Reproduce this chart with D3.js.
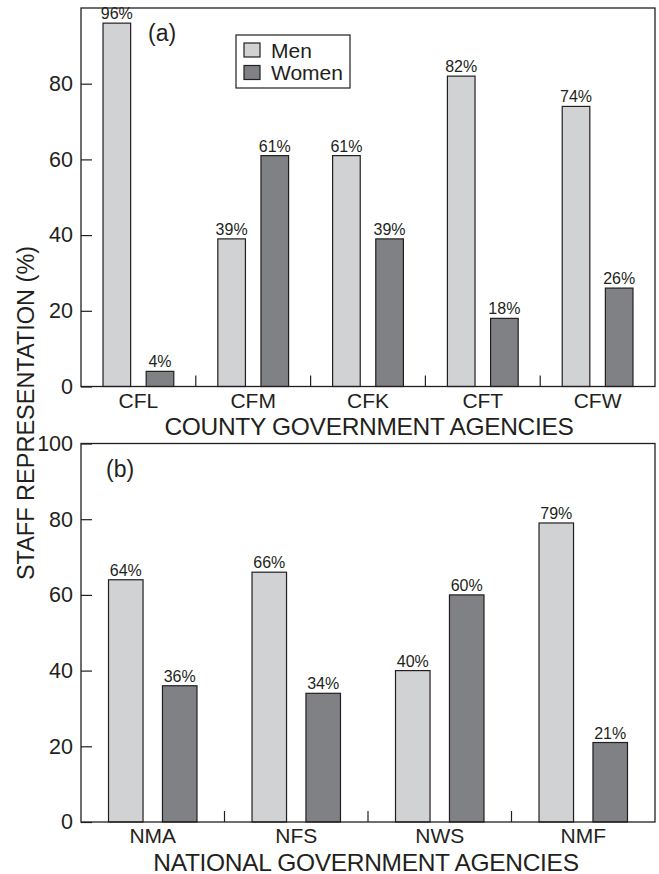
<!DOCTYPE html>
<html>
<head>
<meta charset="utf-8">
<script src="https://cdn.jsdelivr.net/npm/d3@7"></script>
<style>
  html, body { margin: 0; padding: 0; background: #fff; }
  svg { display: block; font-family: "Liberation Sans", Arial, Helvetica, sans-serif; }
</style>
</head>
<body>
<svg id="chart" width="659" height="874"></svg>
<script>
// Staff representation by gender in county and national agencies
const countyAgencies = ["CFL", "CFM", "CFK", "CFT", "CFW"];
const countyMen = [96, 39, 61, 82, 74];
const countyWomen = [4, 61, 39, 18, 26];

const nationalAgencies = ["NMA", "NFS", "NWS", "NMF"];
const nationalMen = [64, 66, 40, 79];
const nationalWomen = [36, 34, 60, 21];

const seriesNames = ["Men", "Women"];
const countyTicks = [0, 20, 40, 60, 80];
const nationalTicks = [0, 20, 40, 60, 80, 100];

const colors = { Men: "#d1d2d4", Women: "#808184" };
const ink = "#231f20";

const svg = d3.select("#chart");
const plotLeft = 81, plotRight = 655;

function panel(opts) {
  const g = svg.append("g");
  const x = d3.scaleBand().domain(opts.categories).range([plotLeft, plotRight]).padding(0);
  const sub = d3.scaleBand().domain(seriesNames).range([0, x.bandwidth()])
    .paddingInner(0.36).paddingOuter(0.51);
  const y = d3.scaleLinear().domain([0, 100]).range([opts.bottom, opts.top]);

  const rows = opts.categories.map((c, i) => ({
    cat: c,
    values: [{ key: "Men", v: opts.men[i] }, { key: "Women", v: opts.women[i] }]
  }));

  // bars
  const grp = g.selectAll(".grp").data(rows).join("g")
    .attr("transform", d => `translate(${x(d.cat)},0)`);
  grp.selectAll("rect").data(d => d.values).join("rect")
    .attr("x", d => sub(d.key))
    .attr("y", d => y(d.v))
    .attr("width", sub.bandwidth())
    .attr("height", d => y(0) - y(d.v))
    .attr("fill", d => colors[d.key])
    .attr("stroke", ink)
    .attr("stroke-width", 1.2);
  grp.selectAll("text").data(d => d.values).join("text")
    .attr("x", d => sub(d.key) + sub.bandwidth() / 2)
    .attr("y", d => y(d.v) - 4)
    .attr("text-anchor", "middle")
    .attr("font-size", 16)
    .attr("fill", ink)
    .text(d => d.v + "%");

  // frame
  g.append("rect")
    .attr("x", plotLeft).attr("y", opts.top)
    .attr("width", plotRight - plotLeft).attr("height", opts.bottom - opts.top)
    .attr("fill", "none").attr("stroke", ink).attr("stroke-width", 1.3);

  // y axis with inward ticks
  const yAxis = d3.axisLeft(y).tickValues(opts.ticks).tickSize(-11).tickPadding(8)
    .tickFormat(d3.format("d"));
  const ya = g.append("g").attr("transform", `translate(${plotLeft},0)`).call(yAxis);
  ya.select(".domain").remove();
  ya.selectAll(".tick line").attr("stroke", ink).attr("stroke-width", 1.2);
  ya.selectAll(".tick text").attr("font-size", 21.5).attr("fill", ink)
    .attr("font-family", "Liberation Sans, Arial, sans-serif");

  // short inward ticks between groups
  const bounds = opts.categories.slice(1).map(c => x(c));
  g.selectAll(".sep").data(bounds).join("line")
    .attr("x1", d => d).attr("x2", d => d)
    .attr("y1", y(0)).attr("y2", y(0) - 11)
    .attr("stroke", ink).attr("stroke-width", 1.2);

  // category labels
  g.selectAll(".cat").data(opts.categories).join("text")
    .attr("x", d => x(d) + x.bandwidth() / 2)
    .attr("y", y(0) + 21)
    .attr("text-anchor", "middle")
    .attr("font-size", 21)
    .attr("fill", ink)
    .text(d => d);

  // axis title
  g.append("text")
    .attr("x", (plotLeft + plotRight) / 2 + opts.titleShift)
    .attr("y", y(0) + 48.5)
    .attr("text-anchor", "middle")
    .attr("font-size", 24.5)
    .attr("letter-spacing", -0.3)
    .attr("fill", ink)
    .text(opts.title);

  // panel tag
  g.append("text")
    .attr("x", opts.tagX).attr("y", opts.tagY)
    .attr("font-size", 23)
    .attr("fill", ink)
    .text(opts.tag);

  return { x, y, g };
}

panel({
  categories: countyAgencies, men: countyMen, women: countyWomen,
  ticks: countyTicks, top: 8, bottom: 386.5, titleShift: 1,
  title: "COUNTY GOVERNMENT AGENCIES", tag: "(a)", tagX: 148, tagY: 41
});

panel({
  categories: nationalAgencies, men: nationalMen, women: nationalWomen,
  ticks: nationalTicks, top: 443.5, bottom: 822, titleShift: -2,
  title: "NATIONAL GOVERNMENT AGENCIES", tag: "(b)", tagX: 106, tagY: 477
});

// legend
const lg = svg.append("g").attr("transform", "translate(236,35)");
lg.append("rect").attr("width", 114).attr("height", 53)
  .attr("fill", "#fff").attr("stroke", ink).attr("stroke-width", 1.2);
const items = lg.selectAll(".item").data(seriesNames).join("g")
  .attr("transform", (d, i) => `translate(8,${8 + i * 22.5})`);
items.append("rect").attr("width", 16).attr("height", 14)
  .attr("fill", d => colors[d]).attr("stroke", ink).attr("stroke-width", 1.2);
items.append("text").attr("x", 27).attr("y", 14.5)
  .attr("font-size", 21).attr("fill", ink).text(d => d);

// shared y-axis title
svg.append("text")
  .attr("transform", "translate(34,413) rotate(-90)")
  .attr("text-anchor", "middle")
  .attr("font-size", 23.5)
  .attr("fill", ink)
  .text("STAFF REPRESENTATION (%)");
</script>
</body>
</html>
